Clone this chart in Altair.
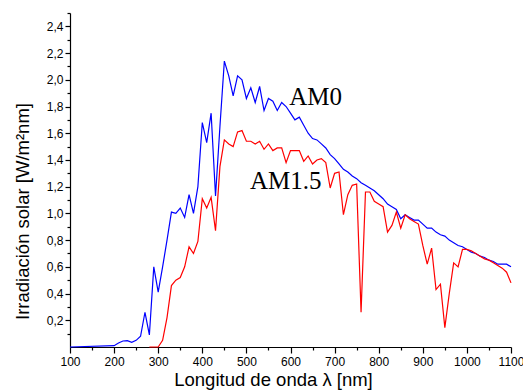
import altair as alt
import pandas as pd

# AM0 spectrum (wavelength nm, irradiance W/m2nm)
am0_wl = [100, 200, 210, 220, 230, 240, 250, 260, 270, 280, 290, 300, 310, 320, 330,
          340, 350, 360, 370, 380, 390, 400, 410, 420, 430, 440, 450, 460, 470, 480,
          490, 500, 510, 520, 530, 540, 550, 560, 570, 580, 590, 600, 610, 620, 630,
          640, 650, 660, 670, 680, 690, 700, 710, 720, 730, 740, 750, 760, 770, 780,
          790, 800, 810, 820, 830, 840, 850, 860, 870, 880, 890, 900, 910, 920, 930,
          940, 950, 960, 970, 980, 990, 1000, 1010, 1020, 1030, 1040, 1050, 1060, 1070,
          1080, 1090, 1100]
am0_val = [0.0, 0.01, 0.03, 0.045, 0.048, 0.035, 0.05, 0.08, 0.26, 0.09, 0.60, 0.41, 0.60, 0.80, 1.01,
           1.00, 1.04, 0.97, 1.14, 1.00, 1.20, 1.68, 1.53, 1.75, 1.13, 1.65, 2.14, 2.03, 1.88, 2.03,
           2.00, 1.86, 1.94, 1.83, 1.95, 1.77, 1.86, 1.84, 1.77, 1.83, 1.80, 1.75, 1.70, 1.72, 1.66,
           1.60, 1.56, 1.55, 1.52, 1.49, 1.44, 1.41, 1.37, 1.33, 1.31, 1.28, 1.26, 1.23, 1.21, 1.19,
           1.17, 1.14, 1.11, 1.07, 1.05, 1.03, 0.96, 0.99, 0.97, 0.95, 0.95, 0.92, 0.89, 0.89, 0.86,
           0.84, 0.83, 0.80, 0.78, 0.76, 0.75, 0.73, 0.71, 0.70, 0.68, 0.67, 0.65, 0.64, 0.62,
           0.62, 0.62, 0.60]

# AM1.5 spectrum
am15_wl = [280, 290, 300, 310, 320, 330, 340, 350, 360, 370, 380, 390, 400, 410, 420,
           430, 440, 450, 460, 470, 480, 490, 500, 510, 520, 530, 540, 550, 560, 570,
           580, 590, 600, 610, 620, 630, 640, 650, 660, 670, 680, 690, 700, 710, 720,
           730, 740, 750, 760, 770, 780, 790, 800, 810, 820, 830, 840, 850, 860, 870,
           880, 890, 900, 910, 920, 930, 940, 950, 960, 970, 980, 990, 1000, 1010, 1020,
           1030, 1040, 1050, 1060, 1070, 1080, 1090, 1100]
am15_val = [0.0, 0.0, 0.0, 0.05, 0.22, 0.46, 0.50, 0.52, 0.60, 0.75, 0.70, 0.79, 1.11, 1.04, 1.12,
            0.87, 1.35, 1.55, 1.52, 1.50, 1.61, 1.62, 1.54, 1.54, 1.52, 1.54, 1.48, 1.52, 1.47, 1.49,
            1.49, 1.38, 1.47, 1.47, 1.47, 1.39, 1.43, 1.37, 1.40, 1.41, 1.38, 1.19, 1.30, 1.31, 0.99,
            1.14, 1.21, 1.22, 0.26, 1.16, 1.16, 1.09, 1.07, 1.05, 0.86, 0.91, 1.01, 0.89, 0.99, 0.96,
            0.94, 0.92, 0.76, 0.62, 0.74, 0.43, 0.47, 0.145, 0.40, 0.63, 0.60, 0.73, 0.73, 0.72, 0.70,
            0.68, 0.66, 0.65, 0.63, 0.61, 0.59, 0.56, 0.48]

series_names = ["AM0", "AM1.5"]
series_colors = ["#0000ff", "#ff0000"]

label_text = ["AM0", "AM1.5"]
label_wl = [597, 508]
label_val = [1.81, 1.186]

x_major = [100, 200, 300, 400, 500, 600, 700, 800, 900, 1000, 1100]
x_minor = [150, 250, 350, 450, 550, 650, 750, 850, 950, 1050]
y_major = [0.2, 0.4, 0.6, 0.8, 1.0, 1.2, 1.4, 1.6, 1.8, 2.0, 2.2, 2.4]
y_minor = [0.1, 0.3, 0.5, 0.7, 0.9, 1.1, 1.3, 1.5, 1.7, 1.9, 2.1, 2.3, 2.5]

df = pd.concat([
    pd.DataFrame({"wl": am0_wl, "val": am0_val, "series": "AM0"}),
    pd.DataFrame({"wl": am15_wl, "val": am15_val, "series": "AM1.5"}),
])
labels = pd.DataFrame({"text": label_text, "wl": label_wl, "val": label_val})

xscale = alt.Scale(domain=[100, 1100], nice=False, zero=False)
yscale = alt.Scale(domain=[0, 2.5], nice=False)

axis_common = dict(domainColor="black", domainWidth=1.2, tickColor="black", tickWidth=1.2,
                   labelColor="black", labelFont="Liberation Sans", labelFontSize=12,
                   grid=False, labelOverlap=False, labelFlush=False,
                   titleFont="Liberation Sans", titleFontSize=18.5, titleFontWeight="normal",
                   titleColor="black")

lines = alt.Chart(df).mark_line(strokeWidth=1.2).encode(
    x=alt.X("wl:Q", scale=xscale,
            axis=alt.Axis(values=x_major, tickSize=6, labelPadding=3, format="d",
                          title="Longitud de onda λ [nm]", titleX=203, titleY=38,
                          titleAnchor=None, titleAlign="center", titleBaseline="alphabetic",
                          orient="bottom", **axis_common)),
    y=alt.Y("val:Q", scale=yscale,
            axis=alt.Axis(values=y_major, tickSize=5, labelPadding=2,
                          labelExpr="replace(format(datum.value, '.1f'), '.', ',')",
                          title="Irradiación solar  [W/m²nm]", titleAngle=270,
                          titleX=-48, titleY=198, titleAlign="center", titleBaseline="middle",
                          orient="left", **axis_common)),
    color=alt.Color("series:N", scale=alt.Scale(domain=series_names, range=series_colors),
                    legend=None),
)

minor = alt.Chart(df).mark_line(opacity=0).encode(
    x=alt.X("wl:Q", scale=xscale,
            axis=alt.Axis(values=x_minor, tickSize=3, labels=False, domain=False, title=None,
                          orient="bottom", tickColor="black", tickWidth=1.2, grid=False)),
    y=alt.Y("val:Q", scale=yscale,
            axis=alt.Axis(values=y_minor, tickSize=3, labels=False, domain=False, title=None,
                          orient="left", tickColor="black", tickWidth=1.2, grid=False)),
    detail="series:N",
)

text = alt.Chart(labels).mark_text(font="Liberation Serif", fontSize=25, align="left",
                                   baseline="alphabetic", color="black").encode(
    x=alt.X("wl:Q", scale=xscale, axis=None),
    y=alt.Y("val:Q", scale=yscale, axis=None),
    text="text:N",
)

chart = alt.layer(lines, minor, text).resolve_axis(
    x="independent", y="independent"
).properties(
    width=441, height=334,
    autosize=alt.AutoSizeParams(type="none"),
    padding={"left": 70, "top": 13, "right": 12, "bottom": 43},
    background="white",
).configure_view(stroke=None)

chart.save("out.html", embed_options={"renderer": "svg", "actions": False})
